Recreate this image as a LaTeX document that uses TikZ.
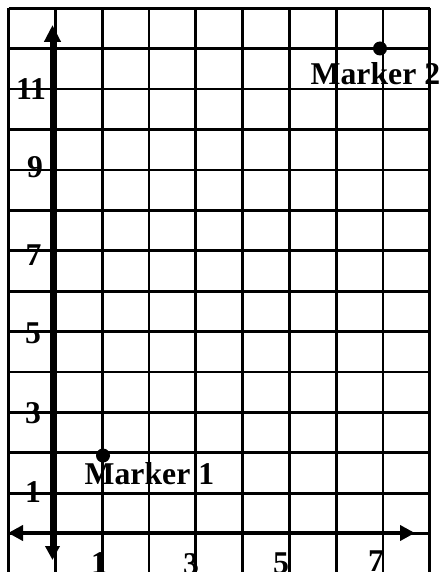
\documentclass[tikz,border=0pt]{standalone}
\usepackage{fontspec}
\setmainfont{Liberation Serif}
\usetikzlibrary{arrows.meta}
\tikzset{
  gridline/.style={line width=2.8pt, black},
  axisline/.style={line width=4.2pt, black},
  tipv/.style={-{Triangle[length=16pt,width=16pt]}},
  lbl/.style={font=\bfseries\fontsize{31.7}{36}\selectfont, inner sep=0pt, text=black},
  dotmark/.style={circle, fill=black, minimum size=14pt, inner sep=0pt},
}
\begin{document}
\begin{tikzpicture}[x=1pt,y=-1pt]
  \useasboundingbox (0,0) rectangle (440,572);
  \clip (0,0) rectangle (440,572);
  \fill[white] (0,0) rectangle (440,572);
  % grid
  \foreach \k in {0,...,9} {
    \draw[gridline] ({8.5+46.8*\k},8.3) -- ({8.5+46.8*\k},580);
  }
  \foreach \k in {0,...,13} {
    \draw[gridline] (8.5,{8.3+40.4*\k}) -- (429.7,{8.3+40.4*\k});
  }
  % axes
  \coordinate (yb) at (52.5,560);
  \coordinate (yt) at (52.5,25);
  \coordinate (xl) at (8,533);
  \coordinate (xr) at (415,533);
  \draw[axisline, {Triangle[length=14pt,width=14pt]}-{Triangle[length=17pt,width=16pt]}] (yb) -- (yt);
  \draw[axisline, {Triangle[length=15pt,width=15pt]}-{Triangle[length=15pt,width=15pt]}] (xl) -- (xr);
  % y labels
  \node[lbl, anchor=base] (y11) at (31,100) {11};
  \node[lbl, anchor=base] (y9) at (35,177.5) {9};
  \node[lbl, anchor=base] (y7) at (33.5,265) {7};
  \node[lbl, anchor=base] (y5) at (33,343) {5};
  \node[lbl, anchor=base] (y3) at (33,423) {3};
  \node[lbl, anchor=base] (y1) at (33,502) {1};
  % x labels
  \node[lbl, anchor=base] (x1) at (99,573) {1};
  \node[lbl, anchor=base] (x3) at (191,574) {3};
  \node[lbl, anchor=base] (x5) at (281,573) {5};
  \node[lbl, anchor=base] (x7) at (376,571) {7};
  % markers
  \node[dotmark] (m1) at (103,455.5) {};
  \node[lbl, anchor=base west] (m1l) at (84.5,484.5) {Marker 1};
  \node[dotmark] (m2) at (380,48.5) {};
  \node[lbl, anchor=base west] (m2l) at (310.5,84.5) {Marker 2};
\end{tikzpicture}
\end{document}
